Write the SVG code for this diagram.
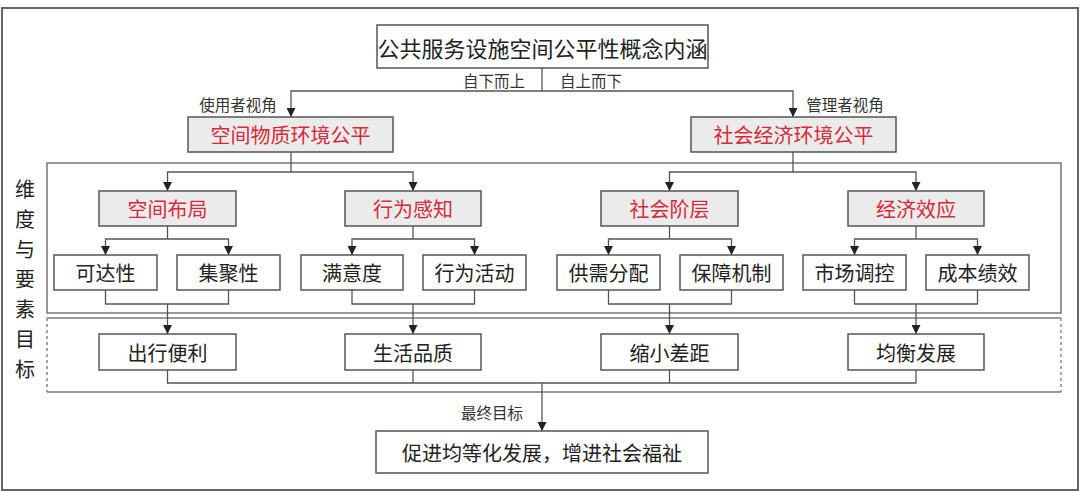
<svg xmlns="http://www.w3.org/2000/svg" width="1080" height="492" viewBox="0 0 1080 492">
<style>
text{font-family:"Noto Sans CJK SC","Noto Sans",sans-serif;text-anchor:middle;dominant-baseline:central}
.box{fill:#fff;stroke:#555;stroke-width:1.5}
.gbox{fill:#ebebeb;stroke:#555;stroke-width:1.5}
.t{font-size:20px;fill:#222}
.r{font-size:20px;fill:#d42a3a}
.s{font-size:15.5px;fill:#333}
.c{fill:none;stroke:#555;stroke-width:1.3}
.frame{fill:none;stroke:#666;stroke-width:2}
.reg{fill:none;stroke:#777;stroke-width:1.5}
.dash{fill:none;stroke:#888;stroke-width:1.5;stroke-dasharray:3 3}
</style>
<defs>
<marker id="arr" viewBox="0 0 10 10" refX="10" refY="5" markerWidth="9" markerHeight="9" markerUnits="userSpaceOnUse" orient="auto"><path d="M0,0 L10,5 L0,10 z" fill="#222"/></marker>
</defs>
<rect x="0" y="0" width="1080" height="492" fill="#fff"/>
<rect class="frame" x="2" y="8" width="1076" height="482"/>
<g id="regions">
<rect class="reg" x="47" y="163" width="1014" height="150"/>
<line class="reg" x1="47" y1="318" x2="1061" y2="318"/>
<line class="reg" x1="47" y1="392" x2="1061" y2="392"/>
<line class="dash" x1="47" y1="318" x2="47" y2="392"/>
<line class="dash" x1="1061" y1="318" x2="1061" y2="392"/>
</g>
<g id="sidelabel">
<text class="t" x="25" y="188">维</text>
<text class="t" x="25" y="218">度</text>
<text class="t" x="25" y="248">与</text>
<text class="t" x="25" y="278">要</text>
<text class="t" x="25" y="308">素</text>
<text class="t" x="25" y="338">目</text>
<text class="t" x="25" y="368">标</text>
</g>
<g id="connectors">
<line class="c" x1="542" y1="68" x2="542" y2="91"/>
<polyline class="c" points="542,91 291,91 291,117" marker-end="url(#arr)"/>
<polyline class="c" points="542,91 793,91 793,117" marker-end="url(#arr)"/>
<line class="c" x1="291" y1="152" x2="291" y2="172"/>
<polyline class="c" points="291,172 167.5,172 167.5,191" marker-end="url(#arr)"/>
<polyline class="c" points="291,172 413,172 413,191" marker-end="url(#arr)"/>
<line class="c" x1="793" y1="152" x2="793" y2="172"/>
<polyline class="c" points="793,172 669.5,172 669.5,191" marker-end="url(#arr)"/>
<polyline class="c" points="793,172 916,172 916,191" marker-end="url(#arr)"/>
<line class="c" x1="167.5" y1="226" x2="167.5" y2="239"/>
<polyline class="c" points="167.5,239 105.5,239 105.5,255" marker-end="url(#arr)"/>
<polyline class="c" points="167.5,239 228.5,239 228.5,255" marker-end="url(#arr)"/>
<line class="c" x1="413" y1="226" x2="413" y2="239"/>
<polyline class="c" points="413,239 352,239 352,255" marker-end="url(#arr)"/>
<polyline class="c" points="413,239 474.5,239 474.5,255" marker-end="url(#arr)"/>
<line class="c" x1="669.5" y1="226" x2="669.5" y2="239"/>
<polyline class="c" points="669.5,239 608.5,239 608.5,255" marker-end="url(#arr)"/>
<polyline class="c" points="669.5,239 731.5,239 731.5,255" marker-end="url(#arr)"/>
<line class="c" x1="916" y1="226" x2="916" y2="239"/>
<polyline class="c" points="916,239 854.5,239 854.5,255" marker-end="url(#arr)"/>
<polyline class="c" points="916,239 977.5,239 977.5,255" marker-end="url(#arr)"/>
<polyline class="c" points="105.5,290 105.5,304 228.5,304 228.5,290"/>
<line class="c" x1="167.5" y1="304" x2="167.5" y2="334" marker-end="url(#arr)"/>
<polyline class="c" points="352,290 352,304 474.5,304 474.5,290"/>
<line class="c" x1="413" y1="304" x2="413" y2="334" marker-end="url(#arr)"/>
<polyline class="c" points="608.5,290 608.5,304 731.5,304 731.5,290"/>
<line class="c" x1="669.5" y1="304" x2="669.5" y2="334" marker-end="url(#arr)"/>
<polyline class="c" points="854.5,290 854.5,304 977.5,304 977.5,290"/>
<line class="c" x1="916" y1="304" x2="916" y2="334" marker-end="url(#arr)"/>
<polyline class="c" points="167.5,370 167.5,383 916,383 916,370"/>
<line class="c" x1="413" y1="370" x2="413" y2="383"/>
<line class="c" x1="669.5" y1="370" x2="669.5" y2="383"/>
<line class="c" x1="542" y1="383" x2="542" y2="431" marker-end="url(#arr)"/>
<text class="s" x="494" y="80">自下而上</text>
<text class="s" x="591" y="80">自上而下</text>
<text class="s" x="238" y="104">使用者视角</text>
<text class="s" x="845" y="104">管理者视角</text>
<text class="s" x="492" y="412">最终目标</text>
</g>
<g id="n-title"><rect class="box" x="377" y="25" width="331" height="43"/><text x="542.5" y="46.5" style="font-size:22px;fill:#222">公共服务设施空间公平性概念内涵</text></g>
<g id="n-space"><rect class="gbox" x="188" y="117" width="205" height="35"/><text class="r" x="290.5" y="134.5">空间物质环境公平</text></g>
<g id="n-social"><rect class="gbox" x="691" y="117" width="205" height="35"/><text class="r" x="793.5" y="134.5">社会经济环境公平</text></g>
<g id="n-layout"><rect class="gbox" x="99" y="191" width="137" height="35"/><text class="r" x="167.5" y="208.5">空间布局</text></g>
<g id="n-behavior"><rect class="gbox" x="345" y="191" width="136" height="35"/><text class="r" x="413" y="208.5">行为感知</text></g>
<g id="n-class"><rect class="gbox" x="601" y="191" width="137" height="35"/><text class="r" x="669.5" y="208.5">社会阶层</text></g>
<g id="n-econ"><rect class="gbox" x="848" y="191" width="136" height="35"/><text class="r" x="916" y="208.5">经济效应</text></g>
<g id="n-access"><rect class="box" x="54" y="255" width="103" height="35"/><text class="t" x="105.5" y="272.5">可达性</text></g>
<g id="n-agg"><rect class="box" x="177" y="255" width="103" height="35"/><text class="t" x="228.5" y="272.5">集聚性</text></g>
<g id="n-satis"><rect class="box" x="301" y="255" width="102" height="35"/><text class="t" x="352" y="272.5">满意度</text></g>
<g id="n-activity"><rect class="box" x="423" y="255" width="103" height="35"/><text class="t" x="474.5" y="272.5">行为活动</text></g>
<g id="n-supply"><rect class="box" x="557" y="255" width="103" height="35"/><text class="t" x="608.5" y="272.5">供需分配</text></g>
<g id="n-guarantee"><rect class="box" x="680" y="255" width="103" height="35"/><text class="t" x="731.5" y="272.5">保障机制</text></g>
<g id="n-market"><rect class="box" x="803" y="255" width="103" height="35"/><text class="t" x="854.5" y="272.5">市场调控</text></g>
<g id="n-cost"><rect class="box" x="926" y="255" width="103" height="35"/><text class="t" x="977.5" y="272.5">成本绩效</text></g>
<g id="n-travel"><rect class="box" x="99" y="334" width="137" height="36"/><text class="t" x="167.5" y="352">出行便利</text></g>
<g id="n-life"><rect class="box" x="345" y="334" width="136" height="36"/><text class="t" x="413" y="352">生活品质</text></g>
<g id="n-gap"><rect class="box" x="601" y="334" width="137" height="36"/><text class="t" x="669.5" y="352">缩小差距</text></g>
<g id="n-balance"><rect class="box" x="848" y="334" width="136" height="36"/><text class="t" x="916" y="352">均衡发展</text></g>
<g id="n-final"><rect class="box" x="376" y="431" width="332" height="42"/><text class="t" x="542" y="452">促进均等化发展，增进社会福祉</text></g>
</svg>
